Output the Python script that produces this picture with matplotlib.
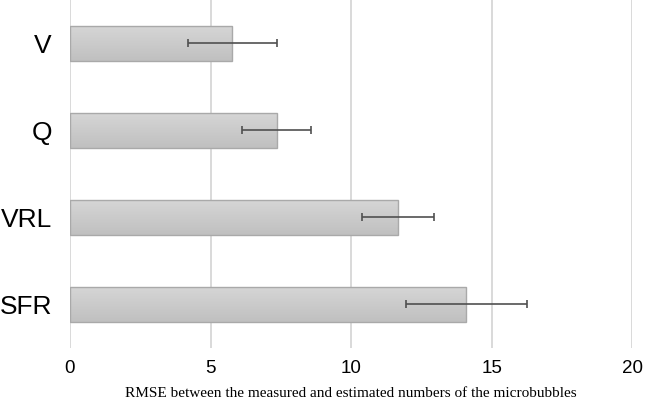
import matplotlib
matplotlib.use('Agg')
import matplotlib.pyplot as plt
import numpy as np

# data
methods = ['V', 'Q', 'VRL', 'SFR']
rmse = [5.77, 7.36, 11.67, 14.10]
rmse_err = [1.58, 1.23, 1.28, 2.15]
xticks = [0, 5, 10, 15, 20]

fig = plt.figure(figsize=(6.45, 4.04), dpi=100)
ax = fig.add_axes([0.1085, 0.139, 0.8715, 0.861])

ypos = np.arange(len(methods))
bars = ax.barh(ypos, rmse, height=0.41, color='none', edgecolor='#a9a9a9',
               linewidth=1.0, zorder=3)

# light-to-dark vertical gradient inside each bar (y axis is inverted)
grad = np.linspace(0, 1, 64).reshape(-1, 1)
cmap = matplotlib.colors.LinearSegmentedColormap.from_list('g', ['#c0c0c0', '#d6d6d6'])
for b in bars:
    x0, y0 = b.get_x(), b.get_y()
    w, h = b.get_width(), b.get_height()
    im = ax.imshow(grad, extent=[x0, x0 + w, y0, y0 + h], aspect='auto',
                   cmap=cmap, origin='upper', zorder=2)
    im.set_clip_path(b)

ax.errorbar(rmse, ypos, xerr=rmse_err, fmt='none', ecolor='#505050',
            elinewidth=1.2, capsize=3, capthick=1.2, zorder=4)

ax.set_xlim(0, 20)
ax.set_ylim(len(methods) - 0.5, -0.5)
ax.set_yticks(ypos)
ax.set_yticklabels(methods, family='Liberation Sans', fontsize=19)
ax.set_xticks(xticks)
ax.set_xticklabels([str(t) for t in xticks], family='Liberation Sans', fontsize=13.5)
ax.tick_params(axis='y', length=0, pad=13)
ax.tick_params(axis='x', length=0, pad=9)

ax.grid(axis='x', color='#d9d9d9', linewidth=1.4, zorder=0)
ax.set_axisbelow(True)
for s in ax.spines.values():
    s.set_visible(False)

ax.set_xlabel('RMSE between the measured and estimated numbers of the microbubbles',
              family='Liberation Serif', fontsize=11, labelpad=7)

fig.savefig('out.png', dpi=100)
